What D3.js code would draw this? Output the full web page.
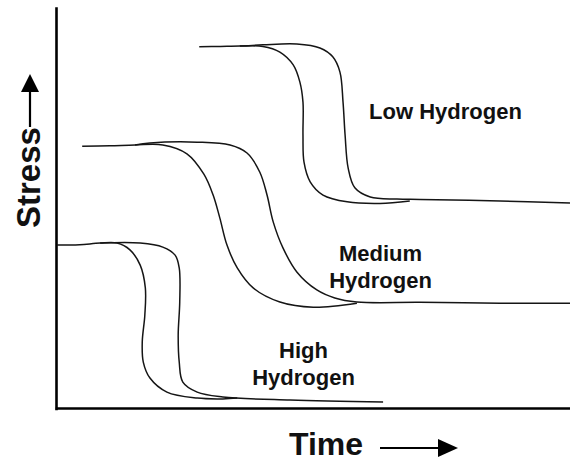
<!DOCTYPE html>
<html>
<head>
<meta charset="utf-8">
<script src="https://cdn.jsdelivr.net/npm/d3@7"></script>
<style>
  html, body { margin: 0; padding: 0; background: #fff; }
  svg { display: block; }
  text { font-family: "Liberation Sans", Arial, Helvetica, sans-serif; font-weight: bold; fill: #111; }
</style>
</head>
<body>
<svg id="chart" width="570" height="461"></svg>
<script>
// Stress-versus-time traces, two per hydrogen level, as [time, stress] in relative units (0-100).
const lowEarly = [[27.8,90.3],[31.9,90.4],[35.7,90.5],[40.2,90.4],[43.5,89.0],[46.1,85.8],[47.4,81.5],[48.0,76.5],[48.0,68.3],[48.2,61.5],[49.4,56.6],[51.9,53.3],[56.6,51.6],[63.0,51.2],[68.8,51.8]];
const lowLate = [[35.7,90.5],[40.2,90.8],[46.8,91.0],[51.3,90.0],[53.8,87.8],[55.2,84.0],[55.8,76.5],[56.2,68.3],[56.8,60.0],[58.1,55.1],[61.1,52.8],[66.3,52.3],[70.8,52.2],[86.4,51.8],[100,51.3]];

const mediumEarly = [[5.0,65.5],[10.4,65.6],[15.3,65.8],[20.7,65.8],[25.4,63.6],[28.7,58.5],[30.5,53.3],[31.8,47.6],[33.2,40.8],[35.2,35.1],[38.3,30.1],[43.5,26.6],[50.0,25.3],[58.5,26.3]];
const mediumLate = [[15.3,65.8],[18.2,66.3],[27.4,66.5],[33.8,65.8],[37.1,63.8],[39.6,59.0],[41.0,53.3],[42.2,46.6],[44.1,40.1],[46.8,34.1],[50.7,29.6],[54.2,27.6],[58.5,26.6],[70.8,26.5],[86.4,26.3],[100,26.3]];

const highEarly = [[0.1,40.8],[4.5,40.9],[8.5,41.3],[11.8,41.3],[14.3,39.6],[16.3,35.8],[17.3,30.1],[17.2,23.3],[16.7,16.6],[16.9,11.6],[18.2,7.6],[21.5,4.1],[27.4,2.6],[32.4,2.4],[35.2,2.6]];
const highLate = [[8.5,41.3],[16.3,41.3],[20.7,40.3],[23.1,38.3],[23.9,35.1],[24.0,26.6],[23.7,18.4],[23.9,11.6],[24.6,6.6],[27.4,4.1],[32.4,2.9],[45.5,2.1],[63.6,1.6]];

// Curve annotations, one entry per hydrogen level (each inner array is a stack of lines).
const levelLabels = [["Low Hydrogen"], ["Medium", "Hydrogen"], ["High", "Hydrogen"]];
const xTitle = "Time";
const yTitle = "Stress";

const svg = d3.select("#chart");

const x = d3.scaleLinear().domain([0, 100]).range([56.5, 570]);
const y = d3.scaleLinear().domain([0, 100]).range([408.5, 8]);

// Bare axes: just the domain lines, no ticks.
const styleDomain = g => g.select(".domain")
  .attr("stroke", "#000")
  .attr("stroke-width", 2.6)
  .attr("stroke-linecap", "square");

svg.append("g")
  .attr("transform", "translate(0,408)")
  .call(d3.axisBottom(x).ticks(0).tickSizeOuter(0))
  .call(styleDomain);

svg.append("g")
  .attr("transform", "translate(56,0)")
  .call(d3.axisLeft(y).ticks(0).tickSizeOuter(0))
  .call(styleDomain);

// Traces
const line = d3.line()
  .x(d => x(d[0]))
  .y(d => y(d[1]))
  .curve(d3.curveCatmullRom.alpha(0.5));

const traces = [lowEarly, lowLate, mediumEarly, mediumLate, highEarly, highLate];

svg.append("g")
  .selectAll("path")
  .data(traces)
  .join("path")
  .attr("d", line)
  .attr("fill", "none")
  .attr("stroke", "#151515")
  .attr("stroke-width", 1.5)
  .attr("stroke-linejoin", "round");

// Level annotations
const labelAnchors = [[445.5, 119], [380.5, 261], [303.5, 358]];
const labelGroup = svg.append("g")
  .attr("text-anchor", "middle")
  .style("font-size", "22px");

levelLabels.forEach((lines, i) => {
  const t = labelGroup.append("text")
    .attr("x", labelAnchors[i][0])
    .attr("y", labelAnchors[i][1]);
  lines.forEach((s, j) => {
    t.append("tspan")
      .attr("x", labelAnchors[i][0])
      .attr("dy", j === 0 ? 0 : 27)
      .text(s);
  });
});

// Axis titles with arrows
svg.append("text")
  .attr("x", 289)
  .attr("y", 455)
  .style("font-size", "32px")
  .text(xTitle);

svg.append("text")
  .attr("transform", "translate(40,228) rotate(-90)")
  .style("font-size", "33px")
  .text(yTitle);

const arrows = svg.append("g").attr("fill", "#000").attr("stroke", "#000");

arrows.append("line")
  .attr("x1", 380).attr("y1", 448).attr("x2", 441).attr("y2", 448)
  .attr("stroke-width", 2.2);
arrows.append("path")
  .attr("d", "M458,448L438,439L438,457Z")
  .attr("stroke", "none");

arrows.append("line")
  .attr("x1", 30).attr("y1", 127).attr("x2", 30).attr("y2", 90)
  .attr("stroke-width", 2.2);
arrows.append("path")
  .attr("d", "M30,74L21,92L39,92Z")
  .attr("stroke", "none");
</script>
</body>
</html>
